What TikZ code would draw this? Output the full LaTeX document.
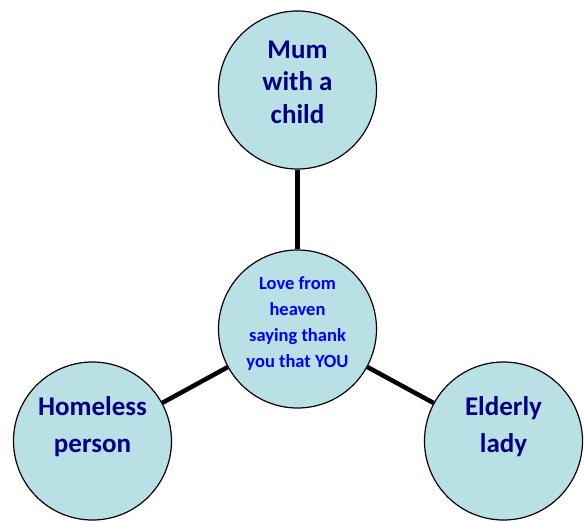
\documentclass[tikz,border=0pt]{standalone}
\usepackage{fontspec}
\setmainfont{Carlito}
\definecolor{bubblefill}{RGB}{185,224,228}
\definecolor{navytext}{RGB}{0,0,128}
\definecolor{bluetext}{RGB}{0,0,255}

\begin{document}
\begin{tikzpicture}[line cap=round,line join=round,x=1pt,y=-1pt,
	bubble/.style={circle,draw=black,line width=1.2pt,fill=bubblefill,minimum size=158pt,inner sep=0pt},
	spoke/.style={line width=4.5pt,line cap=butt},
	outertext/.style={text=navytext,font=\bfseries\fontsize{27}{36.5}\selectfont,align=center,inner sep=0pt},
	hubtext/.style={text=bluetext,font=\bfseries\fontsize{18.5}{26}\selectfont,align=center,inner sep=0pt}]
		\useasboundingbox (0,0) rectangle (585,521);
		% circles
		\node[bubble] (mum) at (297.5,90) {};
		\node[bubble] (hub) at (297.5,329) {};
		\node[bubble] (homeless) at (92.5,441) {};
		\node[bubble] (elderly) at (503.5,441) {};
		% spokes
		\draw[spoke] (hub) -- (mum);
		\draw[spoke] (hub) -- (homeless);
		\draw[spoke] (hub) -- (elderly);
		% texts
		\node[outertext,font=\bfseries\fontsize{27}{32.5}\selectfont] (mumtext) at ([yshift=8pt]mum.center) {Mum\\with a\\child};
		\node[hubtext] (hubtext) at ([yshift=5pt]hub.center) {Love from\\heaven\\saying thank\\you that YOU};
		\node[outertext] (homelesstext) at ([yshift=14.5pt]homeless.center) {Homeless\\person};
		\node[outertext] (elderlytext) at ([yshift=14.5pt]elderly.center) {Elderly\\lady};
\end{tikzpicture}
\end{document}
